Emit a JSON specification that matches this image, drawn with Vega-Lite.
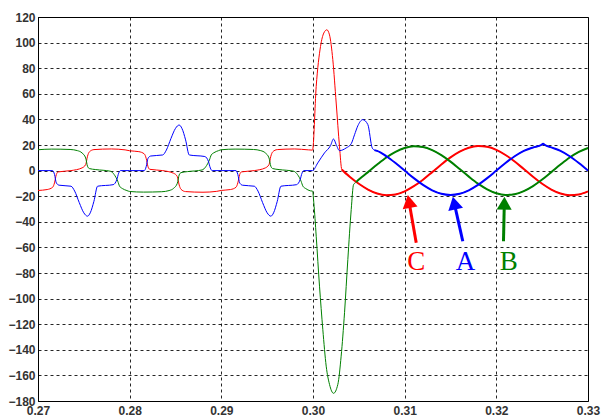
{
 "$schema": "https://vega.github.io/schema/vega-lite/v6.json",
 "width": 550, "height": 384,
 "autosize": {"type": "none"},
 "padding": {"left": 38, "top": 17, "right": 20, "bottom": 18},
 "background": "white",
 "config": {
  "view": {"stroke": "#000", "strokeWidth": 1},
  "axis": {"labelFont": "Liberation Sans", "labelFontSize": 12, "labelFontWeight": "bold", "labelColor": "#333", "labelOverlap": false, "labelFlush": false, "labelBound": false, "labelSeparation": 0, "tickSize": 0, "domainColor": "#000", "gridColor": "#000", "gridDash": [3, 3], "gridOpacity": 0.85}
 },
 "encoding": {
  "x": {"field": "t", "type": "quantitative", "scale": {"domain": [0.27, 0.33], "nice": false, "zero": false},
   "axis": {"title": null, "values": [0.27, 0.28, 0.29, 0.30, 0.31, 0.32, 0.33], "format": ".2f", "labelPadding": 4, "grid": true, "labelOverlap": false, "labelFontSize": 12, "labelFontWeight": "bold", "labelFont": "Liberation Sans", "labelColor": "#333"}},
  "y": {"field": "v", "type": "quantitative", "scale": {"domain": [-180, 120], "nice": false, "zero": false},
   "axis": {"title": null, "values": [-180, -160, -140, -120, -100, -80, -60, -40, -20, 0, 20, 40, 60, 80, 100, 120], "format": "d", "labelPadding": 3, "grid": true, "labelOverlap": false, "labelFontSize": 12, "labelFontWeight": "bold", "labelFont": "Liberation Sans", "labelColor": "#333"}},
  "color": {"field": "p", "type": "nominal", "scale": {"domain": ["A", "B", "C"], "range": ["#0000ff", "#008000", "#ff0000"]}, "legend": null}
 },
 "datasets": {
  "w": [
   {"p":"C","t":0.2700,"v":-15.5},{"p":"C","t":0.2710,"v":-14.8},{"p":"C","t":0.2716,"v":-13},{"p":"C","t":0.2718,"v":-9.6},{"p":"C","t":0.2720,"v":-3.1},{"p":"C","t":0.2722,"v":-1},{"p":"C","t":0.2736,"v":0},{"p":"C","t":0.2748,"v":2.1},{"p":"C","t":0.2752,"v":4.7},{"p":"C","t":0.2754,"v":11.2},{"p":"C","t":0.2756,"v":14.6},{"p":"C","t":0.2761,"v":16.4},{"p":"C","t":0.2780,"v":16.9},{"p":"C","t":0.2795,"v":16.2},
   {"p":"C","t":0.2800,"v":15.5},{"p":"C","t":0.2810,"v":14.8},{"p":"C","t":0.2816,"v":13},{"p":"C","t":0.2818,"v":9.6},{"p":"C","t":0.2820,"v":3.1},{"p":"C","t":0.2822,"v":1},{"p":"C","t":0.2836,"v":0},{"p":"C","t":0.2848,"v":-2.1},{"p":"C","t":0.2852,"v":-4.7},{"p":"C","t":0.2854,"v":-11.2},{"p":"C","t":0.2856,"v":-14.6},{"p":"C","t":0.2861,"v":-16.4},{"p":"C","t":0.2880,"v":-16.9},{"p":"C","t":0.2895,"v":-16.2},
   {"p":"C","t":0.2900,"v":-15.5},{"p":"C","t":0.2910,"v":-14.8},{"p":"C","t":0.2916,"v":-13},{"p":"C","t":0.2918,"v":-9.6},{"p":"C","t":0.2920,"v":-3.1},{"p":"C","t":0.2922,"v":-1},{"p":"C","t":0.2936,"v":0},{"p":"C","t":0.2948,"v":2.1},{"p":"C","t":0.2952,"v":4.7},{"p":"C","t":0.2954,"v":11.2},{"p":"C","t":0.2956,"v":14.6},{"p":"C","t":0.2961,"v":16.4},{"p":"C","t":0.2980,"v":16.9},{"p":"C","t":0.2995,"v":16.2},
   {"p":"C","t":0.29995,"v":16},{"p":"C","t":0.30035,"v":65.8},{"p":"C","t":0.30082,"v":97},{"p":"C","t":0.30118,"v":107.5},{"p":"C","t":0.30151,"v":110},{"p":"C","t":0.3018,"v":106},{"p":"C","t":0.30216,"v":86.7},{"p":"C","t":0.30253,"v":52.8},{"p":"C","t":0.30289,"v":19},{"p":"C","t":0.30314,"v":0.8},
   {"p":"C","t":0.304,"v":-4.8},{"p":"C","t":0.305,"v":-10.3},{"p":"C","t":0.306,"v":-14.8},{"p":"C","t":0.307,"v":-17.9},{"p":"C","t":0.308,"v":-19.2},{"p":"C","t":0.309,"v":-18.6},{"p":"C","t":0.310,"v":-16.2},{"p":"C","t":0.311,"v":-12.2},{"p":"C","t":0.312,"v":-7.1},{"p":"C","t":0.313,"v":-1.2},{"p":"C","t":0.314,"v":4.8},{"p":"C","t":0.315,"v":10.3},{"p":"C","t":0.316,"v":14.8},{"p":"C","t":0.317,"v":17.9},{"p":"C","t":0.318,"v":19.2},{"p":"C","t":0.319,"v":18.6},{"p":"C","t":0.320,"v":16.2},{"p":"C","t":0.321,"v":12.2},{"p":"C","t":0.322,"v":7.1},{"p":"C","t":0.323,"v":1.2},{"p":"C","t":0.324,"v":-4.8},{"p":"C","t":0.325,"v":-10.3},{"p":"C","t":0.326,"v":-14.8},{"p":"C","t":0.327,"v":-17.9},{"p":"C","t":0.328,"v":-19.2},{"p":"C","t":0.329,"v":-18.6},{"p":"C","t":0.330,"v":-16.2},

   {"p":"B","t":0.2700,"v":16.3},{"p":"B","t":0.2715,"v":16.8},{"p":"B","t":0.2735,"v":16.5},{"p":"B","t":0.2743,"v":15.6},{"p":"B","t":0.2748,"v":13.8},{"p":"B","t":0.2752,"v":9.9},{"p":"B","t":0.2754,"v":3.4},{"p":"B","t":0.2756,"v":1.6},{"p":"B","t":0.2763,"v":0.8},{"p":"B","t":0.2779,"v":-0.5},{"p":"B","t":0.2783,"v":-3},{"p":"B","t":0.2787,"v":-8.3},{"p":"B","t":0.2789,"v":-12.2},{"p":"B","t":0.2792,"v":-14},{"p":"B","t":0.2797,"v":-15.6},
   {"p":"B","t":0.2800,"v":-16.3},{"p":"B","t":0.2815,"v":-16.8},{"p":"B","t":0.2835,"v":-16.5},{"p":"B","t":0.2843,"v":-15.6},{"p":"B","t":0.2848,"v":-13.8},{"p":"B","t":0.2852,"v":-9.9},{"p":"B","t":0.2854,"v":-3.4},{"p":"B","t":0.2856,"v":-1.6},{"p":"B","t":0.2863,"v":-0.8},{"p":"B","t":0.2879,"v":0.5},{"p":"B","t":0.2883,"v":3},{"p":"B","t":0.2887,"v":8.3},{"p":"B","t":0.2889,"v":12.2},{"p":"B","t":0.2892,"v":14},{"p":"B","t":0.2897,"v":15.6},
   {"p":"B","t":0.2900,"v":16.3},{"p":"B","t":0.2915,"v":16.8},{"p":"B","t":0.2935,"v":16.5},{"p":"B","t":0.2943,"v":15.6},{"p":"B","t":0.2948,"v":13.8},{"p":"B","t":0.2952,"v":9.9},{"p":"B","t":0.2954,"v":3.4},{"p":"B","t":0.2956,"v":1.6},{"p":"B","t":0.2963,"v":0.8},{"p":"B","t":0.2979,"v":-0.5},{"p":"B","t":0.2983,"v":-3},{"p":"B","t":0.2987,"v":-8.3},{"p":"B","t":0.2989,"v":-12.2},{"p":"B","t":0.2992,"v":-14},{"p":"B","t":0.2997,"v":-15.8},
   {"p":"B","t":0.29995,"v":-16},{"p":"B","t":0.30009,"v":-25.2},{"p":"B","t":0.30035,"v":-51.3},{"p":"B","t":0.30071,"v":-90.3},{"p":"B","t":0.30107,"v":-124},{"p":"B","t":0.30144,"v":-152.8},{"p":"B","t":0.3018,"v":-167},{"p":"B","t":0.30224,"v":-174},{"p":"B","t":0.30271,"v":-167},{"p":"B","t":0.30307,"v":-145},{"p":"B","t":0.30344,"v":-111},{"p":"B","t":0.3038,"v":-69.5},{"p":"B","t":0.30417,"v":-30.4},{"p":"B","t":0.30442,"v":-11},{"p":"B","t":0.3047,"v":-9},
   {"p":"B","t":0.305,"v":-7.0},{"p":"B","t":0.306,"v":-1.2},{"p":"B","t":0.307,"v":4.7},{"p":"B","t":0.308,"v":10.2},{"p":"B","t":0.309,"v":14.6},{"p":"B","t":0.310,"v":17.7},{"p":"B","t":0.311,"v":19.0},{"p":"B","t":0.312,"v":18.4},{"p":"B","t":0.313,"v":16.0},{"p":"B","t":0.314,"v":12.1},{"p":"B","t":0.315,"v":7.0},{"p":"B","t":0.316,"v":1.2},{"p":"B","t":0.317,"v":-4.7},{"p":"B","t":0.318,"v":-10.2},{"p":"B","t":0.319,"v":-14.6},{"p":"B","t":0.320,"v":-17.7},{"p":"B","t":0.321,"v":-19.0},{"p":"B","t":0.322,"v":-18.4},{"p":"B","t":0.323,"v":-16.0},{"p":"B","t":0.324,"v":-12.1},{"p":"B","t":0.325,"v":-7.0},{"p":"B","t":0.326,"v":-1.2},{"p":"B","t":0.327,"v":4.7},{"p":"B","t":0.328,"v":10.2},{"p":"B","t":0.329,"v":14.6},{"p":"B","t":0.330,"v":17.7},

   {"p":"A","t":0.2700,"v":0},{"p":"A","t":0.2716,"v":0},{"p":"A","t":0.2718,"v":-3},{"p":"A","t":0.2720,"v":-9.6},{"p":"A","t":0.2723,"v":-11.4},{"p":"A","t":0.2736,"v":-12.2},{"p":"A","t":0.2740,"v":-16},{"p":"A","t":0.2745,"v":-25},{"p":"A","t":0.2750,"v":-33},{"p":"A","t":0.2754,"v":-35.6},{"p":"A","t":0.2757,"v":-33},{"p":"A","t":0.2761,"v":-24},{"p":"A","t":0.2765,"v":-12.2},{"p":"A","t":0.2782,"v":-11},{"p":"A","t":0.2786,"v":-7},{"p":"A","t":0.2788,"v":-2},{"p":"A","t":0.2790,"v":0},
   {"p":"A","t":0.2800,"v":0},{"p":"A","t":0.2816,"v":0},{"p":"A","t":0.2818,"v":3},{"p":"A","t":0.2820,"v":9.6},{"p":"A","t":0.2823,"v":11.4},{"p":"A","t":0.2836,"v":12.2},{"p":"A","t":0.2840,"v":16},{"p":"A","t":0.2845,"v":25},{"p":"A","t":0.2850,"v":33},{"p":"A","t":0.2854,"v":35.6},{"p":"A","t":0.2857,"v":33},{"p":"A","t":0.2861,"v":24},{"p":"A","t":0.2865,"v":12.2},{"p":"A","t":0.2882,"v":11},{"p":"A","t":0.2886,"v":7},{"p":"A","t":0.2888,"v":2},{"p":"A","t":0.2890,"v":0},
   {"p":"A","t":0.2900,"v":0},{"p":"A","t":0.2916,"v":0},{"p":"A","t":0.2918,"v":-3},{"p":"A","t":0.2920,"v":-9.6},{"p":"A","t":0.2923,"v":-11.4},{"p":"A","t":0.2936,"v":-12.2},{"p":"A","t":0.2940,"v":-16},{"p":"A","t":0.2945,"v":-25},{"p":"A","t":0.2950,"v":-33},{"p":"A","t":0.2954,"v":-35.6},{"p":"A","t":0.2957,"v":-33},{"p":"A","t":0.2961,"v":-24},{"p":"A","t":0.2965,"v":-12.2},{"p":"A","t":0.2982,"v":-11},{"p":"A","t":0.2986,"v":-7},{"p":"A","t":0.2988,"v":-2},{"p":"A","t":0.2990,"v":0},
   {"p":"A","t":0.29995,"v":0},{"p":"A","t":0.30052,"v":6},{"p":"A","t":0.30125,"v":13.8},{"p":"A","t":0.30191,"v":19.5},{"p":"A","t":0.30224,"v":24.7},{"p":"A","t":0.30253,"v":20.3},{"p":"A","t":0.30289,"v":15.6},{"p":"A","t":0.30362,"v":17.7},{"p":"A","t":0.30417,"v":21},{"p":"A","t":0.30453,"v":28},{"p":"A","t":0.30489,"v":35},{"p":"A","t":0.30543,"v":39.8},{"p":"A","t":0.30598,"v":36},{"p":"A","t":0.30646,"v":17.7},{"p":"A","t":0.3067,"v":16},
   {"p":"A","t":0.307,"v":15.4},{"p":"A","t":0.308,"v":11.2},{"p":"A","t":0.309,"v":5.9},{"p":"A","t":0.310,"v":0},{"p":"A","t":0.311,"v":-5.9},{"p":"A","t":0.312,"v":-11.2},{"p":"A","t":0.313,"v":-15.4},{"p":"A","t":0.314,"v":-18.1},{"p":"A","t":0.315,"v":-19},{"p":"A","t":0.316,"v":-18.1},{"p":"A","t":0.317,"v":-15.4},{"p":"A","t":0.318,"v":-11.2},{"p":"A","t":0.319,"v":-5.9},{"p":"A","t":0.320,"v":0},{"p":"A","t":0.321,"v":5.9},{"p":"A","t":0.322,"v":11.2},{"p":"A","t":0.323,"v":15.4},{"p":"A","t":0.324,"v":18.1},{"p":"A","t":0.3249,"v":20},{"p":"A","t":0.3251,"v":21},{"p":"A","t":0.3253,"v":20},{"p":"A","t":0.326,"v":18.1},{"p":"A","t":0.327,"v":15.4},{"p":"A","t":0.328,"v":11.2},{"p":"A","t":0.329,"v":5.9},{"p":"A","t":0.330,"v":0}
  ],
  "ann": [
   {"p":"C","t":0.31047,"v":-24.1,"t2":0.31126,"v2":-56.4,"lt":0.31126,"lv":-77.3},
   {"p":"A","t":0.31541,"v":-25.4,"t2":0.31634,"v2":-55.2,"lt":0.31664,"lv":-77.3},
   {"p":"B","t":0.32087,"v":-25.5,"t2":0.32078,"v2":-55.2,"lt":0.32135,"lv":-77.3}
  ]
 },
 "layer": [
  {
   "data": {"name": "w"},
   "mark": {"type": "line", "strokeWidth": 1, "interpolate": "monotone"}
  },
  {
   "data": {"name": "w"},
   "transform": [{"filter": "(datum.p=='C' && datum.t>=0.3031) || (datum.p=='B' && datum.t>=0.3047) || (datum.p=='A' && datum.t>=0.3067)"}],
   "mark": {"type": "line", "strokeWidth": 2, "interpolate": "monotone"}
  },
  {
   "data": {"name": "ann"},
   "mark": {"type": "rule", "strokeWidth": 3},
   "encoding": {
    "x2": {"field": "t2"},
    "y2": {"field": "v2"}
   }
  },
  {
   "data": {"name": "ann"},
   "transform": [{"filter": "datum.p=='C'"}],
   "mark": {"type": "point", "shape": "triangle-up", "filled": true, "size": 225, "angle": -10, "opacity": 1}
  },
  {
   "data": {"name": "ann"},
   "transform": [{"filter": "datum.p=='A'"}],
   "mark": {"type": "point", "shape": "triangle-up", "filled": true, "size": 225, "angle": -12.5, "opacity": 1}
  },
  {
   "data": {"name": "ann"},
   "transform": [{"filter": "datum.p=='B'"}],
   "mark": {"type": "point", "shape": "triangle-up", "filled": true, "size": 225, "angle": 1, "opacity": 1}
  },
  {
   "data": {"name": "ann"},
   "mark": {"type": "text", "font": "Liberation Serif", "fontSize": 27, "align": "center", "baseline": "alphabetic"},
   "encoding": {
    "x": {"field": "lt", "type": "quantitative"},
    "y": {"field": "lv", "type": "quantitative"},
    "text": {"field": "p"}
   }
  }
 ]
}
